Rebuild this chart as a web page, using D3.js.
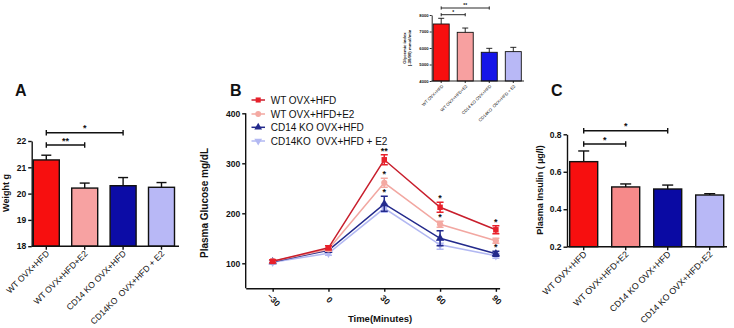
<!DOCTYPE html>
<html><head><meta charset="utf-8">
<script src="https://cdn.jsdelivr.net/npm/d3@7/dist/d3.min.js"></script>
<style>
html,body{margin:0;padding:0;background:#fff;}
svg{display:block;font-family:"Liberation Sans",Arial,sans-serif;}
svg text{white-space:pre;}
</style></head>
<body>
<svg id="c" width="734" height="328"></svg>
<script>
// ---------- DATA ----------
const groupsA = ["WT OVX+HFD", "WT OVX+HFD+E2", "CD14 KO OVX+HFD", "CD14KO  OVX+HFD + E2"];
const weightMean = [21.28, 20.21, 20.30, 20.24];
const weightErr = [0.18, 0.19, 0.31, 0.18];
const weightTicks = [18, 19, 20, 21, 22];

const groupsInset = ["WT OVX+HFD", "WT OVX+HFD+E2", "CD14 KO OVX+HFD", "CD14KO  OVX+HFD + E2"];
const glycemicMean = [7455, 6950, 5740, 5780];
const glycemicErr = [345, 260, 240, 260];
const glycemicTicks = [4000, 5000, 6000, 7000, 8000];

const groupsC = ["WT OVX+HFD", "WT OVX+HFD+E2", "CD14 KO OVX+HFD", "CD14 KO OVX+HFD+E2"];
const insulinMean = [0.654, 0.519, 0.508, 0.476];
const insulinErr = [0.057, 0.016, 0.021, 0.007];
const insulinTicks = [0.2, 0.4, 0.6, 0.8];

const times = [-30, 0, 30, 60, 90];
const glucoseTicks = [100, 200, 300, 400];
const seriesNames = ["WT OVX+HFD", "WT OVX+HFD+E2", "CD14 KO OVX+HFD", "CD14KO  OVX+HFD + E2"];
const glucoseWT = [104, 131, 307, 212, 167];
const glucoseWTErr = [3, 4, 10, 10, 8];
const glucoseWTE2 = [104, 128, 261, 178, 145];
const glucoseWTE2Err = [3, 4, 9, 6, 5];
const glucoseKO = [103, 126, 219, 150, 119];
const glucoseKOErr = [3, 4, 15, 15, 5];
const glucoseKOE2 = [102, 120, 210, 137, 115];
const glucoseKOE2Err = [3, 4, 8, 9, 5];
const sigWT = ["", "", "**", "*", "*"];
const sigWTE2 = ["", "", "*", "*", ""];
const sigKO = ["", "", "*", "", "*"];
const sigKOE2 = ["", "", "", "", ""];

// ---------- DRAW ----------
const svg = d3.select("#c");
const barColorsA = ["#f70f0f", "#f7a2a2", "#0c0ca6", "#b8b8f6"];
const barColorsC = ["#f70f0f", "#f68a8a", "#0a0aa3", "#b8b8f6"];
const barColorsI = ["#f70f0f", "#f7a0a0", "#1515e8", "#b8b8f6"];

function barPanel(o) {
  const g = svg.append("g");
  const x = d3.scalePoint().domain(o.groups).range(o.xRange);
  const y = d3.scaleLinear().domain(o.yDomain).range(o.yRange);
  g.selectAll("rect.bar").data(o.means).join("rect")
    .attr("x", (d, i) => x(o.groups[i]) - o.bw / 2)
    .attr("y", d => y(d))
    .attr("width", o.bw)
    .attr("height", d => y(o.yDomain[0]) - y(d))
    .attr("fill", (d, i) => o.colors[i])
    .attr("stroke", "#111").attr("stroke-width", o.sw);
  o.means.forEach((m, i) => {
    const cx = x(o.groups[i]);
    g.append("line").attr("x1", cx).attr("x2", cx).attr("y1", y(m)).attr("y2", y(m + o.errs[i]))
      .attr("stroke", "#111").attr("stroke-width", o.sw);
    g.append("line").attr("x1", cx - o.cap).attr("x2", cx + o.cap).attr("y1", y(m + o.errs[i])).attr("y2", y(m + o.errs[i]))
      .attr("stroke", "#111").attr("stroke-width", o.sw);
  });
  const ya = g.append("g").attr("transform", `translate(${o.axisX},0)`)
    .call(d3.axisLeft(y).tickValues(o.ticks).tickSize(o.tick).tickSizeOuter(0).tickPadding(o.pad).tickFormat(o.fmt));
  ya.select(".domain").attr("stroke", "#111").attr("stroke-width", o.sw);
  ya.selectAll(".tick line").attr("stroke", "#111").attr("stroke-width", o.sw);
  ya.selectAll("text").attr("font-size", o.tfs).attr("font-weight", "bold").attr("fill", "#111")
    .attr("font-family", "Liberation Sans, Arial, sans-serif");
  const y0 = y(o.yDomain[0]);
  g.append("line").attr("x1", o.axisX).attr("x2", o.xEnd).attr("y1", y0).attr("y2", y0)
    .attr("stroke", "#111").attr("stroke-width", o.sw);
  o.groups.forEach((gName, i) => {
    const cx = x(gName);
    g.append("line").attr("x1", cx).attr("x2", cx).attr("y1", y0).attr("y2", y0 + o.tick)
      .attr("stroke", "#111").attr("stroke-width", o.sw);
    g.append("text").attr("transform", `translate(${cx + o.lx},${y0 + o.ly}) rotate(-45)`)
      .attr("text-anchor", "end").attr("font-size", o.lfs).attr("fill", "#111").text(gName);
  });
  o.brackets.forEach(b => {
    const x1 = x(o.groups[b[0]]), x2 = x(o.groups[b[1]]), by = b[2];
    g.append("path").attr("d", `M${x1},${by - o.bc}V${by + o.bc}M${x1},${by}H${x2}M${x2},${by - o.bc}V${by + o.bc}`)
      .attr("fill", "none").attr("stroke", "#111").attr("stroke-width", o.sw);
    g.append("text").attr("x", (x1 + x2) / 2).attr("y", by - o.sy).attr("text-anchor", "middle")
      .attr("font-size", o.sfs).attr("font-weight", "bold").attr("fill", "#111").text(b[3]);
  });
  o.ytitle.forEach((t, k) => {
    g.append("text").attr("transform", `translate(${o.ytx + k * o.ytdx},${o.yty}) rotate(-90)`)
      .attr("text-anchor", "middle").attr("font-size", o.yfs).attr("font-weight", "bold").attr("fill", "#111").text(t);
  });
}

barPanel({
  groups: groupsA, means: weightMean, errs: weightErr, ticks: weightTicks,
  xRange: [46.3, 161.5], yDomain: [18, 22], yRange: [246.2, 141], bw: 26, colors: barColorsA,
  sw: 1.4, cap: 5, axisX: 31.7, xEnd: 179, tick: 3.5, pad: 2, tfs: 8.5, fmt: d3.format("d"),
  lx: 3.5, ly: 8, lfs: 8.6,
  brackets: [[0, 1, 145, "**"], [0, 2, 132.7, "*"]], bc: 2.8, sy: 1.5, sfs: 9,
  ytitle: ["Weight g"], ytx: 9, yty: 193, ytdx: 0, yfs: 9
});

barPanel({
  groups: groupsC, means: insulinMean, errs: insulinErr, ticks: insulinTicks,
  xRange: [583.7, 709.7], yDomain: [0.2, 0.8], yRange: [246.7, 134.3], bw: 28, colors: barColorsC,
  sw: 1.4, cap: 5.5, axisX: 567, xEnd: 727, tick: 3.5, pad: 2, tfs: 8.5, fmt: d3.format(".1f"),
  lx: 3.5, ly: 8, lfs: 8.8,
  brackets: [[0, 1, 144, "*"], [0, 2, 130.7, "*"]], bc: 2.8, sy: 1.5, sfs: 9,
  ytitle: ["Plasma Insulin ( \u00b5g/l)"], ytx: 543, yty: 190, ytdx: 0, yfs: 9
});

barPanel({
  groups: groupsInset, means: glycemicMean, errs: glycemicErr, ticks: glycemicTicks,
  xRange: [441.2, 513.3], yDomain: [4000, 8000], yRange: [81, 15], bw: 16, colors: barColorsI,
  sw: 0.9, cap: 3, axisX: 431.7, xEnd: 524, tick: 2, pad: 1, tfs: 4.2, fmt: d3.format("d"),
  lx: 2.5, ly: 5.5, lfs: 4.3,
  brackets: [[0, 1, 14.7, "*"], [0, 2, 8, "**"]], bc: 1.6, sy: 1, sfs: 5,
  ytitle: ["Glycemic index", "(-30/90) mmol/min"], ytx: 406, yty: 48, ytdx: 4.8, yfs: 4.3
});

(function () {
  const g = svg.append("g");
  const x = d3.scaleLinear().domain([-44.5, 92]).range([245.7, 499.6]);
  const y = d3.scaleLinear().domain([50, 400]).range([288.3, 113.3]);
  const series = [
    { name: seriesNames[0], v: glucoseWT, e: glucoseWTErr, sig: sigWT, line: "#c81e2c", mk: "#e8202a", sym: d3.symbolSquare },
    { name: seriesNames[1], v: glucoseWTE2, e: glucoseWTE2Err, sig: sigWTE2, line: "#f2a7a1", mk: "#f4a9a2", sym: d3.symbolCircle },
    { name: seriesNames[2], v: glucoseKO, e: glucoseKOErr, sig: sigKO, line: "#232a8c", mk: "#232a8c", sym: d3.symbolTriangle },
    { name: seriesNames[3], v: glucoseKOE2, e: glucoseKOE2Err, sig: sigKOE2, line: "#b2b8f2", mk: "#b2b8f2", sym: d3.symbolTriangle, flip: true }
  ];
  const lineGen = d3.line().x((d, i) => x(times[i])).y(d => y(d));
  [3, 2, 1, 0].forEach(k => {
    const s = series[k];
    g.append("path").attr("d", lineGen(s.v)).attr("fill", "none").attr("stroke", s.line).attr("stroke-width", 1.5);
    s.v.forEach((v, i) => {
      const cx = x(times[i]);
      g.append("path").attr("d", `M${cx},${y(v - s.e[i])}V${y(v + s.e[i])}M${cx - 3.5},${y(v - s.e[i])}H${cx + 3.5}M${cx - 3.5},${y(v + s.e[i])}H${cx + 3.5}`)
        .attr("stroke", s.mk).attr("stroke-width", 1.5).attr("fill", "none");
      g.append("path").attr("d", d3.symbol(s.sym, 30)())
        .attr("transform", `translate(${cx},${y(v)})${s.flip ? " rotate(180)" : ""}`).attr("fill", s.mk);
    });
  });
  series.forEach(s => {
    s.v.forEach((v, i) => {
      if (!s.sig[i]) return;
      g.append("text").attr("x", x(times[i])).attr("y", y(v + s.e[i]) - 1).attr("text-anchor", "middle")
        .attr("font-size", 9).attr("font-weight", "bold").attr("fill", "#111").text(s.sig[i]);
    });
  });
  const ya = g.append("g").attr("transform", `translate(245.7,0)`)
    .call(d3.axisLeft(y).tickValues(glucoseTicks).tickSize(3.5).tickSizeOuter(0).tickPadding(2));
  ya.select(".domain").attr("stroke", "#111").attr("stroke-width", 1.4)
    .attr("d", `M0,${y(400)}V${y(50)}`);
  ya.selectAll(".tick line").attr("stroke", "#111").attr("stroke-width", 1.4);
  ya.selectAll("text").attr("font-size", 8.5).attr("font-weight", "bold").attr("fill", "#111")
    .attr("font-family", "Liberation Sans, Arial, sans-serif");
  const xa = g.append("g").attr("transform", `translate(0,${y(50)})`)
    .call(d3.axisBottom(x).tickValues(times).tickSize(3.5).tickSizeOuter(0).tickFormat(d3.format("d")));
  xa.select(".domain").attr("stroke", "#111").attr("stroke-width", 1.4);
  xa.selectAll(".tick line").attr("stroke", "#111").attr("stroke-width", 1.4);
  xa.selectAll("text").attr("font-size", 8.5).attr("font-weight", "bold").attr("fill", "#111")
    .attr("font-family", "Liberation Sans, Arial, sans-serif")
    .attr("text-anchor", "middle").attr("dy", null).attr("y", null)
    .attr("transform", "translate(0,12) rotate(45)").attr("dominant-baseline", "middle");
  g.append("text").attr("x", 380).attr("y", 322).attr("text-anchor", "middle")
    .attr("font-size", 9.5).attr("font-weight", "bold").attr("fill", "#111").text("Time(Minutes)");
  g.append("text").attr("transform", "translate(208,203) rotate(-90)").attr("text-anchor", "middle")
    .attr("font-size", 10).attr("font-weight", "bold").attr("fill", "#111").text("Plasma Glucose mg/dL");
  const ly = [100, 114, 127.3, 141];
  series.forEach((s, k) => {
    g.append("line").attr("x1", 251.5).attr("x2", 265).attr("y1", ly[k]).attr("y2", ly[k])
      .attr("stroke", s.line).attr("stroke-width", 1.5);
    g.append("path").attr("d", d3.symbol(s.sym, 26)())
      .attr("transform", `translate(258.2,${ly[k]})${s.flip ? " rotate(180)" : ""}`).attr("fill", s.mk);
    g.append("text").attr("x", 270.7).attr("y", ly[k] + 3.6).attr("font-size", 10).attr("fill", "#111").text(s.name);
  });
})();

[["A", 15, 96], ["B", 230, 96], ["C", 551, 96]].forEach(p => {
  svg.append("text").attr("x", p[1]).attr("y", p[2]).attr("font-size", 16).attr("font-weight", "bold")
    .attr("fill", "#111").text(p[0]);
});
</script>
</body></html>
